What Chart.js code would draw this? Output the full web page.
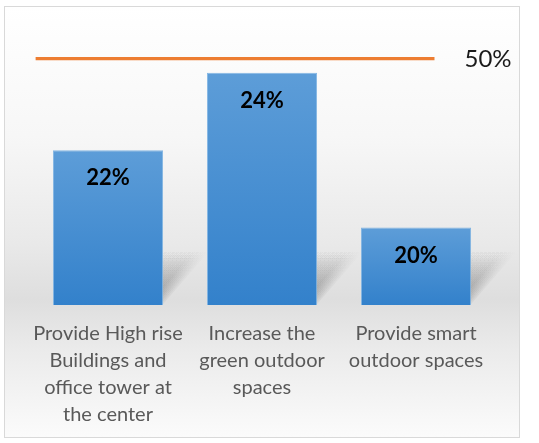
<!DOCTYPE html>
<html>
<head>
<meta charset="utf-8">
<script src="https://cdn.jsdelivr.net/npm/chart.js"></script>
<style>
    html, body { margin: 0; padding: 0; width: 539px; height: 443px; overflow: hidden; background: #fff; }
    #frame {
        position: absolute; left: 4px; top: 6px; width: 514px; height: 430px;
        border: 1px solid #d9d9d9;
        background: linear-gradient(to bottom, #ffffff 0%, #f7f7f7 30%, #e9e9e9 55%, #dedede 68%, #ebebeb 80%, #fbfbfb 100%);
    }
    #wrap { position: absolute; left: 0; top: 0; width: 539px; height: 443px; }
</style>
</head>
<body>
<div id="frame"></div>
<div id="wrap"><canvas id="chart" width="539" height="443"></canvas></div>
<script>
// chart data
const categories = [
    ["Provide High rise", "Buildings and", "office tower at", "the center"],
    ["Increase the", "green outdoor", "spaces"],
    ["Provide smart", "outdoor spaces"]
];
const shares = [22, 24, 20];
const targetValue = [50, 50];
const targetSpan = [-0.47, 2.12];   // in category units, where the orange line starts/ends

const FONT = "Lato, 'Open Sans', sans-serif";

// per-bar vertical gradient, lighter at the top
function barFill(context) {
    const chart = context.chart;
    if (!chart.chartArea || context.parsed === undefined) return '#4a8fd2';
    const top = chart.scales.y.getPixelForValue(context.parsed.y);
    const g = chart.ctx.createLinearGradient(0, top, 0, chart.chartArea.bottom);
    g.addColorStop(0, '#5d9dd8');
    g.addColorStop(1, '#3381cb');
    return g;
}

// oblique "perspective" shadow cast to the upper right of each bar,
// built from a few stacked translucent slices so it fades and softens
const barShadow = {
    id: 'barShadow',
    afterDatasetsDraw(chart) {},
    beforeDatasetsDraw(chart) {
        const ctx = chart.ctx;
        const bottom = chart.chartArea.bottom;
        chart.getDatasetMeta(0).data.forEach((bar) => {
            const left = bar.x - bar.width / 2, right = bar.x + bar.width / 2;
            const rise = Math.min(55, (bottom - bar.y) * 0.7);
            ctx.save();
            for (let k = 0; k < 8; k++) {
                const spread = k * 2;
                const g = ctx.createLinearGradient(0, bottom, 0, bottom - rise);
                g.addColorStop(0, 'rgba(70, 70, 70, 0.07)');
                g.addColorStop(1, 'rgba(70, 70, 70, 0)');
                ctx.fillStyle = g;
                ctx.beginPath();
                ctx.moveTo(left + 4, bottom - 1);
                ctx.lineTo(right - spread, bottom - 1);
                ctx.lineTo(right + rise * 0.85 - spread, bottom - rise);
                ctx.lineTo(left + rise * 0.85, bottom - rise);
                ctx.closePath();
                ctx.fill();
            }
            ctx.restore();
        });
    }
};

// value labels inside the bars + label at the end of the target line
const valueLabels = {
    id: 'valueLabels',
    afterDatasetsDraw(chart) {
        const ctx = chart.ctx;
        ctx.save();
        ctx.textAlign = 'center';
        ctx.textBaseline = 'middle';
        ctx.fillStyle = '#000000';
        ctx.font = "bold 22px " + FONT;
        chart.getDatasetMeta(0).data.forEach((bar, i) => {
            ctx.fillText(shares[i] + '%', bar.x, bar.y + 28);
        });

        const pts = chart.getDatasetMeta(1).data;
        const last = pts[pts.length - 1];
        ctx.textAlign = 'left';
        ctx.fillStyle = '#1a1a1a';
        ctx.font = "24px " + FONT;
        ctx.fillText(targetValue[targetValue.length - 1] + '%', last.x + 30, last.y + 1);
        ctx.restore();
    }
};

new Chart(document.getElementById('chart'), {
    type: 'bar',
    data: {
        labels: categories,
        datasets: [
            {
                data: shares,
                backgroundColor: barFill,
                borderColor: 'rgba(120, 175, 225, 0.9)',
                borderWidth: 1,
                grouped: false,
                categoryPercentage: 1,
                barPercentage: 0.715,
                xAxisID: 'x',
                yAxisID: 'y'
            },
            {
                type: 'line',
                data: targetSpan.map((x, i) => ({ x: x, y: targetValue[i] })),
                borderColor: '#ed7d31',
                borderWidth: 3.2,
                pointRadius: 0,
                fill: false,
                xAxisID: 'x2',
                yAxisID: 'y2'
            }
        ]
    },
    plugins: [barShadow, valueLabels],
    options: {
        responsive: false,
        animation: false,
        layout: {
            padding: { top: 34, bottom: 0, left: 31, right: 46 }
        },
        scales: {
            x: {
                offset: true,
                grid: { display: false, drawTicks: false },
                border: { display: false },
                ticks: {
                    color: '#595959',
                    padding: 15,
                    maxRotation: 0,
                    autoSkip: false,
                    font: { family: FONT, size: 20, lineHeight: 1.35 }
                }
            },
            x2: {
                type: 'linear',
                display: false,
                offset: false,
                grid: { offset: false },
                min: -0.5,
                max: 2.5
            },
            y: {
                display: false,
                min: 18,
                max: 25
            },
            y2: {
                display: false,
                min: 0,
                max: 55
            }
        },
        plugins: {
            legend: { display: false },
            tooltip: { enabled: false }
        }
    }
});
</script>
</body>
</html>
